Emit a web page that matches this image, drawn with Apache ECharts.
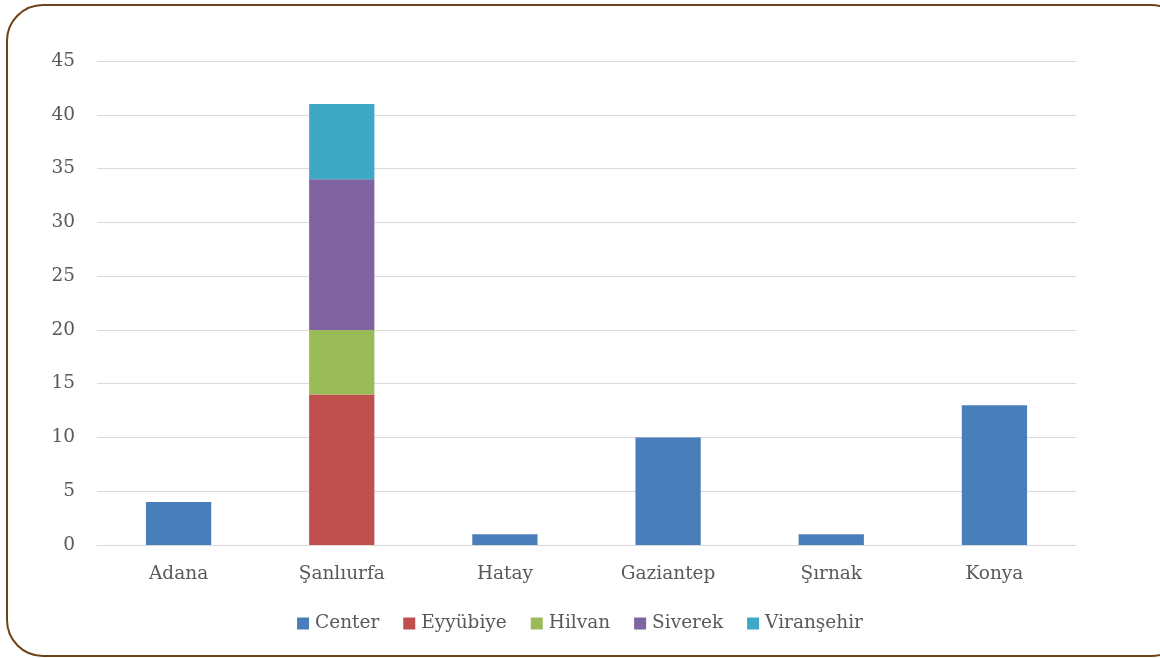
<!DOCTYPE html>
<html><head><meta charset="utf-8">
<script src="https://cdn.jsdelivr.net/npm/echarts@6/dist/echarts.min.js"></script>
<style>html,body{margin:0;padding:0;background:#fff}#c{width:1160px;height:658px}</style>
</head><body><div id="c"></div>
<script>
const categories = ['Adana','Şanlıurfa','Hatay','Gaziantep','Şırnak','Konya'];
const seriesNames = ['Center','Eyyübiye','Hilvan','Siverek','Viranşehir'];
const center = [4, null, 1, 10, 1, 13];
const eyyubiye = [null, 14, null, null, null, null];
const hilvan = [null, 6, null, null, null, null];
const siverek = [null, 14, null, null, null, null];
const viransehir = [null, 7, null, null, null, null];
const yTicks = [0,5,10,15,20,25,30,35,40,45];

const colors = ['#4a7ebb','#c0504d','#9bbb59','#8064a2','#3fa9c5'];
const font = 'DejaVu Serif';
const fs = 18.5;
const seriesData = [center, eyyubiye, hilvan, siverek, viransehir];

const chart = echarts.init(document.getElementById('c'));
chart.setOption({
  animation: false,
  color: colors,
  textStyle: {fontFamily: font},
  graphic: [{
    type: 'rect', silent: true, z: 100,
    shape: {x: 7, y: 5, width: 1180, height: 651, r: 36},
    style: {fill: 'none', stroke: '#6b4219', lineWidth: 2}
  }],
  grid: {left: 97, right: 84, top: 61, bottom: 113},
  legend: {
    top: 609, left: 'center',
    itemWidth: 12, itemHeight: 12, itemGap: 24,
    icon: 'rect',
    textStyle: {fontFamily: font, fontSize: fs, color: '#595959', padding: [0,0,0,1]},
    data: seriesNames
  },
  xAxis: {
    type: 'category', data: categories,
    axisLine: {lineStyle: {color: '#d9d9d9', width: 1}},
    axisTick: {show: false},
    axisLabel: {fontFamily: font, fontSize: fs, color: '#595959', margin: 20}
  },
  yAxis: {
    type: 'value', min: yTicks[0], max: yTicks[yTicks.length-1], interval: 5,
    axisLine: {show: false}, axisTick: {show: false},
    splitLine: {lineStyle: {color: '#d9d9d9', width: 1}},
    axisLabel: {fontFamily: font, fontSize: fs, color: '#595959', margin: 22}
  },
  series: seriesNames.map((n, i) => ({
    name: n, type: 'bar', stack: 'total', data: seriesData[i],
    barWidth: '40%'
  }))
});
</script></body></html>
